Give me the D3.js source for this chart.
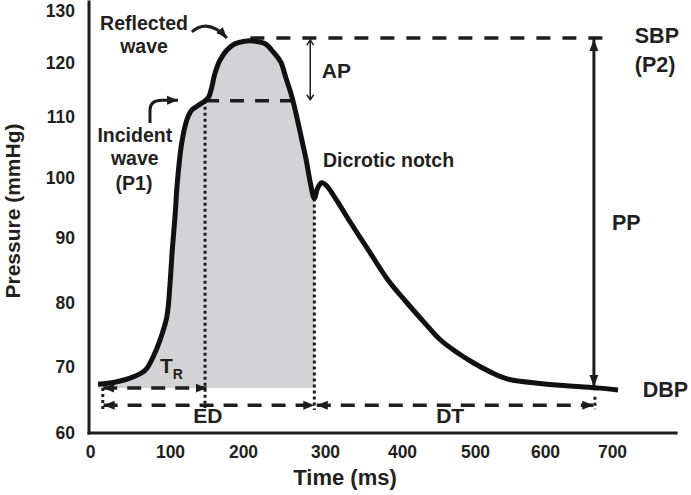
<!DOCTYPE html>
<html><head><meta charset="utf-8">
<script src="https://cdn.jsdelivr.net/npm/d3@7"></script>
<style>
html,body{margin:0;padding:0;background:#fff;}
svg{display:block;font-family:"Liberation Sans",Arial,sans-serif;font-weight:bold;}
</style></head><body>
<svg id="c" width="691" height="495"></svg>
<script>
// ---------- data ----------
const xTicks = [0,100,200,300,400,500,600,700];
const yTicks = [60,70,80,90,100,110,120,130];
const timeMs = [10,31,54,69,79,87.5,96,100,103,107,110,116,123,130,137,148,153,157,161,168,178,189,202,215,227,237,246,252,259,265,271,277,282,287,291,296,302,315,331,356,382,407,431,452,475,497,521,546,593,642,682,709];
const pressure = [67.4,67.7,68.5,69.5,71.6,74.2,77.8,82.9,88.0,93.8,99.2,105.7,109.5,111.3,112.0,113.0,113.7,115.4,117.8,120.4,122.5,123.7,124.2,124.2,123.7,122.1,120.2,117.4,114.1,110.4,106.7,103.0,99.3,96.6,98.3,99.2,98.7,96.3,93.0,88.2,83.5,80.0,76.9,74.3,72.3,70.7,69.3,68.2,67.5,67.1,66.8,66.5];
const notchTime = 287, notchPressure = 96.6;
const p1Time = 148, p1Pressure = 113.0;
const sbpPressure = 124.8, dbpPressure = 67.0;
const fillBase = 66.8;
const startTime = 16, ppTime = 673;
const trLevel = 66.8, edLevel = 64.2, tickBottom = 63.5;

// ---------- scales (calibrated to the printed tick labels) ----------
const x = d3.scaleLinear().domain(xTicks).range([90,170,243,325,402,475,545,612]);
const y = d3.scaleLinear().domain(yTicks).range([433,367,303,238,178,117,63,11]);

const svg = d3.select("#c");
const ink = "#1e1c1d";

// markers
const defs = svg.append("defs");
function marker(id, w, h, open){
  const m = defs.append("marker").attr("id", id).attr("markerUnits","userSpaceOnUse")
    .attr("markerWidth", w+2).attr("markerHeight", h+2).attr("refX", w).attr("refY", h/2+1)
    .attr("orient","auto-start-reverse").attr("viewBox",`0 0 ${w+2} ${h+2}`);
  if(open) m.append("path").attr("d",`M1,1 L${w},${h/2+1} L1,${h+1}`).attr("fill","none").attr("stroke",ink).attr("stroke-width",1.5);
  else m.append("path").attr("d",`M0,1 L${w},${h/2+1} L0,${h+1} Z`).attr("fill",ink);
}
marker("tri", 11, 9, false);
marker("big", 12, 9, false);
marker("vee", 6, 7, true);

// grey area (upstroke to dicrotic notch)
const pts = timeMs.map((t,i)=>({t, p: pressure[i]}));
const sys = pts.filter(d => d.t <= notchTime);
svg.append("path").datum(sys)
  .attr("d", d3.area().x(d=>x(d.t)).y0(y(fillBase)).y1(d=>y(d.p)).curve(d3.curveCatmullRom.alpha(0.5)))
  .attr("fill","#d3d3d5");

// axes
const gx = svg.append("g").attr("transform",`translate(0,${y(60)})`)
  .call(d3.axisBottom(x).tickValues(xTicks).tickSize(0).tickPadding(13));
const gy = svg.append("g").attr("transform",`translate(${x(0)-1},0)`)
  .call(d3.axisLeft(y).tickValues(yTicks).tickSize(0).tickPadding(14));
[gx,gy].forEach(g=>{ g.select(".domain").remove();
  g.selectAll("text").attr("font-size",17.5).attr("font-weight","bold").attr("fill","#231f20")
   .attr("font-family","Liberation Sans, Arial, sans-serif"); });
svg.append("line").attr("x1",x(0)-1).attr("x2",x(0)-1).attr("y1",y(132)).attr("y2",y(60)+1.5)
  .attr("stroke",ink).attr("stroke-width",3);
svg.append("line").attr("x1",x(0)-2.5).attr("x2",x(798)).attr("y1",y(60)).attr("y2",y(60))
  .attr("stroke",ink).attr("stroke-width",3);

svg.append("text").attr("x",x(326)).attr("y",485).attr("text-anchor","middle")
  .attr("font-size",22).attr("fill","#231f20").text("Time (ms)");
svg.append("text").attr("transform",`translate(20,${y(94.5)}) rotate(-90)`).attr("text-anchor","middle")
  .attr("font-size",21).attr("fill","#231f20").text("Pressure (mmHg)");

// helper lines
function seg(t1,p1,t2,p2,opts){
  const l = svg.append("line").attr("x1",x(t1)).attr("y1",y(p1)).attr("x2",x(t2)).attr("y2",y(p2))
    .attr("stroke",ink).attr("stroke-width",opts.w||3);
  if(opts.dash) l.attr("stroke-dasharray",opts.dash);
  if(opts.m1) l.attr("marker-start",`url(#${opts.m1})`);
  if(opts.m2) l.attr("marker-end",`url(#${opts.m2})`);
  return l;
}
// dashed horizontals
seg(209, sbpPressure, 694, sbpPressure, {dash:"14,12", w:3.5});
seg(p1Time, p1Pressure, 270, p1Pressure, {dash:"14,11", w:3.5});
// dotted verticals
seg(p1Time, p1Pressure, p1Time, 63.8, {dash:"3,3", w:3});
seg(notchTime, notchPressure, notchTime, tickBottom, {dash:"3,3", w:3});
seg(startTime, trLevel, startTime, tickBottom, {dash:"3,3", w:3});
seg(ppTime+1.5, 65.5, ppTime+1.5, 63.6, {dash:"3,3", w:3});
// AP arrow
seg(282, 124.4, 282, 113.2, {w:1.5, m1:"vee", m2:"vee"});
// PP arrow
seg(ppTime, 124.6, ppTime, dbpPressure, {w:3, m1:"big", m2:"big"});
// timing arrows
seg(startTime+0.5, trLevel, p1Time+2, trLevel, {dash:"14,10", w:3.5, m1:"tri", m2:"tri"});
seg(startTime+1, edLevel, notchTime, edLevel, {dash:"14,10", w:3.5, m1:"tri", m2:"tri"});
seg(notchTime+3, edLevel, ppTime-1, edLevel, {dash:"14,10", w:3.5, m1:"tri", m2:"tri"});

// curved pointer arrows
svg.append("path")
  .attr("d",`M${x(130)},${y(126.0)} Q${x(152)},${y(128.7)} ${x(178)},${y(124.8)}`)
  .attr("fill","none").attr("stroke",ink).attr("stroke-width",3).attr("marker-end","url(#tri)");
svg.append("path")
  .attr("d",`M${x(75)},${y(109.0)} L${x(75)},${y(111.3)} Q${x(75)},${y(113.1)} ${x(90)},${y(113.1)} L${x(111)},${y(113.1)}`)
  .attr("fill","none").attr("stroke",ink).attr("stroke-width",3).attr("marker-end","url(#tri)");

// waveform
svg.append("path").datum(pts)
  .attr("d", d3.line().x(d=>x(d.t)).y(d=>y(d.p)).curve(d3.curveCatmullRom.alpha(0.5)))
  .attr("fill","none").attr("stroke","#111").attr("stroke-width",5).attr("stroke-linecap","butt").attr("stroke-linejoin","round");

// labels
const labels = [
  {s:"Reflected", t:67.5, p:126.3, a:"middle", f:19.5},
  {s:"wave", t:67.5, p:121.9, a:"middle", f:19.5},
  {s:"Incident", t:56, p:105.9, a:"middle", f:19.5},
  {s:"wave", t:56, p:102.1, a:"middle", f:19.5},
  {s:"(P1)", t:55, p:98.0, a:"middle", f:19.5},
  {s:"Dicrotic notch", t:297.6, p:101.8, a:"start", f:19.5},
  {s:"AP", t:296, p:117.2, a:"start", f:21},
  {s:"SBP", t:734, p:123.8, a:"start", f:21.5},
  {s:"(P2)", t:734, p:118.3, a:"start", f:21.5},
  {s:"PP", t:700, p:91.3, a:"start", f:21.5},
  {s:"DBP", t:746, p:65.5, a:"start", f:21.5},
  {s:"ED", t:152, p:61.5, a:"middle", f:21},
  {s:"DT", t:466, p:61.5, a:"middle", f:21}
];
svg.selectAll("text.lab").data(labels).join("text").attr("class","lab")
  .attr("x",d=>x(d.t)).attr("y",d=>y(d.p)).attr("text-anchor",d=>d.a)
  .attr("font-size",d=>d.f).attr("fill","#231f20").text(d=>d.s);
const tr = svg.append("text").attr("x",x(87.5)).attr("y",y(69.1)).attr("font-size",21).attr("fill","#231f20");
tr.append("tspan").text("T");
tr.append("tspan").attr("font-size",14).attr("dy",6).text("R");
</script>
</body></html>
